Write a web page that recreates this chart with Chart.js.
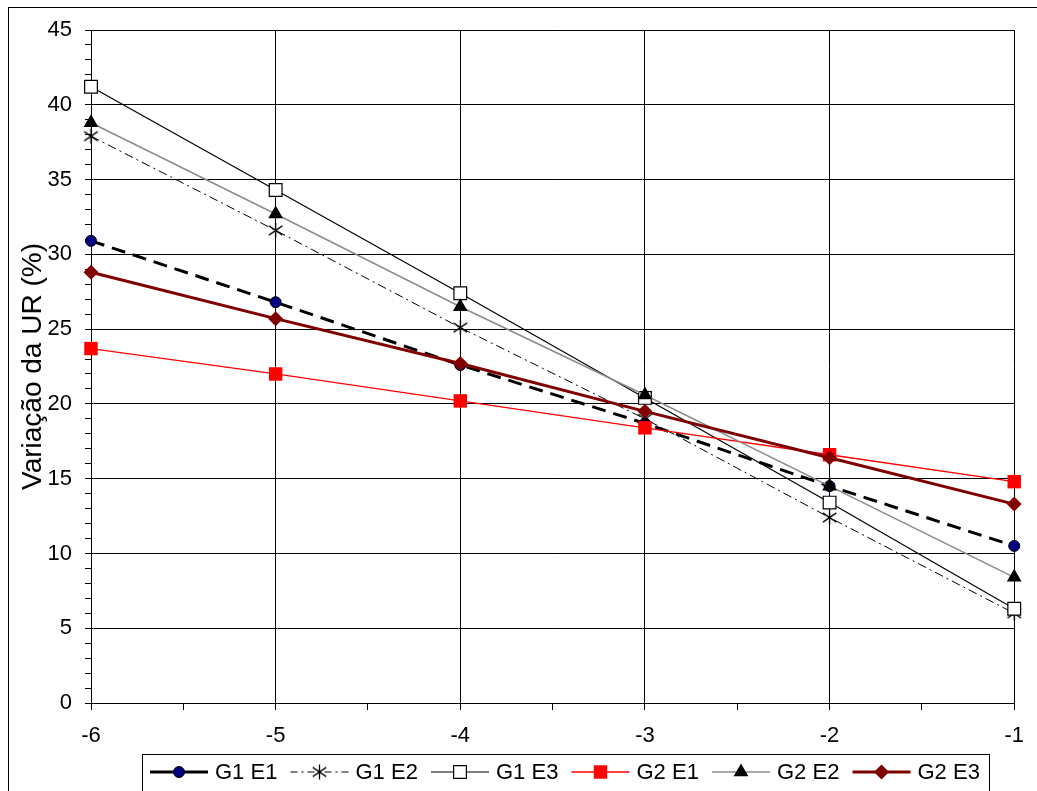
<!DOCTYPE html>
<html>
<head>
<meta charset="utf-8">
<script src="https://cdn.jsdelivr.net/npm/chart.js@4.4.0/dist/chart.umd.min.js"></script>
<style>
  html, body { margin: 0; padding: 0; background: #fff; }
  #wrap { width: 1037px; height: 791px; position: relative; }
</style>
</head>
<body>
<div id="wrap"><canvas id="c" width="1037" height="791"></canvas></div>
<script>
// ---- data ----
const xValues = [-6, -5, -4, -3, -2, -1];
const seriesNames = ['G1 E1', 'G1 E2', 'G1 E3', 'G2 E1', 'G2 E2', 'G2 E3'];
const g1e1 = [30.9, 26.8, 22.6, 18.7, 14.5, 10.5];
const g1e2 = [37.9, 31.6, 25.1, 19.0, 12.4, 6.0];
const g1e3 = [41.2, 34.3, 27.4, 20.4, 13.4, 6.3];
const g2e1 = [23.7, 22.0, 20.2, 18.4, 16.6, 14.8];
const g2e2 = [38.8, 32.7, 26.5, 20.6, 14.5, 8.4];
const g2e3 = [28.8, 25.7, 22.7, 19.5, 16.4, 13.3];
const yAxisTitle = 'Variação da UR (%)';

const FONT = "'Liberation Sans', Arial, sans-serif";

// custom star marker: X with a vertical bar (Excel style)
function makeStar(size) {
  const c = document.createElement('canvas');
  c.width = size; c.height = size;
  const g = c.getContext('2d');
  g.strokeStyle = '#000';
  g.lineWidth = 1.3;
  const m = size / 2, r = size / 2 - 1;
  g.beginPath();
  g.moveTo(m - r * 0.9, m - r * 0.62); g.lineTo(m + r * 0.9, m + r * 0.62);
  g.moveTo(m + r * 0.9, m - r * 0.62); g.lineTo(m - r * 0.9, m + r * 0.62);
  g.moveTo(m, m - r); g.lineTo(m, m + r);
  g.stroke();
  return c;
}
const starImg = makeStar(17);

function pts(arr) { return xValues.map((x, i) => ({ x: x, y: arr[i] })); }

const styles = [
  { data: g1e1, color: '#000', width: 3, dash: [14, 8], pointStyle: 'circle', radius: 5.5, bg: '#000080', pBorder: '#000', pBW: 1 },
  { data: g1e2, color: '#000', width: 1, dash: [9, 4, 2, 4], pointStyle: starImg, radius: 8, bg: '#000', pBorder: '#000', pBW: 1 },
  { data: g1e3, color: '#000', width: 1.2, dash: [], pointStyle: 'rect', radius: 9, bg: '#fff', pBorder: '#000', pBW: 1.2 },
  { data: g2e1, color: '#ff0000', width: 1.3, dash: [], pointStyle: 'rect', radius: 9.5, bg: '#ff0000', pBorder: '#ff0000', pBW: 0 },
  { data: g2e2, color: '#8c8c8c', width: 1.6, dash: [], pointStyle: 'triangle', radius: 8.5, bg: '#000', pBorder: '#000', pBW: 0 },
  { data: g2e3, color: '#800000', width: 3, dash: [], pointStyle: 'rectRot', radius: 7.5, bg: '#800000', pBorder: '#800000', pBW: 0 }
];

const datasets = styles.map((s, i) => ({
  label: seriesNames[i],
  data: pts(s.data),
  borderColor: s.color,
  borderWidth: s.width,
  borderDash: s.dash,
  tension: 0,
  pointStyle: s.pointStyle,
  pointRadius: s.radius,
  pointHoverRadius: s.radius,
  pointBackgroundColor: s.bg,
  pointBorderColor: s.pBorder,
  pointBorderWidth: s.pBW,
  clip: false,
  order: styles.length - i
}));

function drawMarker(ctx, s, x, y) {
  ctx.save();
  ctx.setLineDash([]);
  ctx.fillStyle = s.bg;
  ctx.strokeStyle = s.pBorder;
  ctx.lineWidth = s.pBW;
  const r = s.radius;
  if (typeof s.pointStyle !== 'string') {
    const img = s.pointStyle;
    ctx.drawImage(img, x - img.width / 2, y - img.height / 2);
    ctx.restore();
    return;
  }
  ctx.beginPath();
  if (s.pointStyle === 'circle') {
    ctx.arc(x, y, r, 0, Math.PI * 2);
  } else if (s.pointStyle === 'rect') {
    const h = Math.SQRT1_2 * r;
    ctx.rect(x - h, y - h, 2 * h, 2 * h);
  } else if (s.pointStyle === 'triangle') {
    let a = 0;
    ctx.moveTo(x + Math.sin(a) * r, y - Math.cos(a) * r);
    a += 2 * Math.PI / 3;
    ctx.lineTo(x + Math.sin(a) * r, y - Math.cos(a) * r);
    a += 2 * Math.PI / 3;
    ctx.lineTo(x + Math.sin(a) * r, y - Math.cos(a) * r);
    ctx.closePath();
  } else if (s.pointStyle === 'rectRot') {
    ctx.moveTo(x - r, y); ctx.lineTo(x, y - r); ctx.lineTo(x + r, y); ctx.lineTo(x, y + r);
    ctx.closePath();
  }
  ctx.fill();
  if (s.pBW > 0) ctx.stroke();
  ctx.restore();
}

const framePlugin = {
  id: 'frame',
  beforeDraw(chart) {
    const ctx = chart.ctx;
    ctx.save();
    ctx.fillStyle = '#fff';
    ctx.fillRect(0, 0, chart.width, chart.height);
    ctx.strokeStyle = '#000';
    ctx.lineWidth = 1;
    ctx.strokeRect(8.5, 7.5, 2000, 2000);
    ctx.restore();
  },
  afterDraw(chart) {
    const ctx = chart.ctx;
    ctx.save();
    // legend box
    const boxL = 142.5, boxT = 754.5, boxR = 989.5;
    ctx.strokeStyle = '#000';
    ctx.lineWidth = 1;
    ctx.setLineDash([]);
    ctx.strokeRect(boxL, boxT, boxR - boxL, 60);
    ctx.font = '22px ' + FONT;
    ctx.textBaseline = 'middle';
    ctx.fillStyle = '#000';
    const cy = 772;
    const startX = 150, pitch = 140.5, sampleLen = 58, textOff = 65;
    styles.forEach((s, i) => {
      const x = startX + pitch * i;
      ctx.save();
      ctx.strokeStyle = s.color;
      ctx.lineWidth = s.width;
      ctx.setLineDash(i === 1 ? [7, 4, 2, 4] : []);
      ctx.beginPath();
      ctx.moveTo(x, cy);
      ctx.lineTo(x + sampleLen, cy);
      ctx.stroke();
      ctx.restore();
      drawMarker(ctx, s, x + sampleLen / 2, cy);
      ctx.fillStyle = '#000';
      ctx.fillText(seriesNames[i], x + textOff, cy + 1);
    });
    ctx.restore();
  }
};

const isInt = v => Math.abs(v - Math.round(v)) < 1e-9;

new Chart(document.getElementById('c'), {
  type: 'line',
  data: { datasets: datasets },
  plugins: [framePlugin],
  options: {
    responsive: false,
    animation: false,
    events: [],
    layout: { padding: { top: 30, right: 19, left: 0, bottom: 0 } },
    plugins: { legend: { display: false }, tooltip: { enabled: false } },
    scales: {
      x: {
        type: 'linear',
        min: -6, max: -1,
        afterFit(scale) { scale.height = 88; },
        ticks: {
          stepSize: 0.5,
          autoSkip: false,
          maxRotation: 0,
          padding: 13,
          color: '#000',
          font: { size: 22, family: FONT },
          callback: v => isInt(v) ? String(Math.round(v)) : ''
        },
        grid: {
          color: c => (c.tick && isInt(c.tick.value)) ? '#000' : 'rgba(0,0,0,0)',
          tickColor: '#000',
          tickLength: 7,
          lineWidth: 1
        },
        border: { color: '#000', width: 1 }
      },
      y: {
        min: 0, max: 45,
        afterFit(scale) { scale.width = 91; },
        ticks: {
          stepSize: 1,
          autoSkip: false,
          padding: 13,
          color: '#000',
          font: { size: 22, family: FONT },
          callback: v => (isInt(v) && Math.round(v) % 5 === 0) ? String(Math.round(v)) : ''
        },
        grid: {
          color: c => (c.tick && Math.round(c.tick.value) % 5 === 0) ? '#000' : 'rgba(0,0,0,0)',
          tickColor: '#000',
          tickLength: 6,
          lineWidth: 1
        },
        border: { color: '#000', width: 1 },
        title: {
          display: true,
          text: yAxisTitle,
          color: '#000',
          font: { size: 28, family: FONT },
          padding: { top: 16, bottom: 0 }
        }
      }
    }
  }
});
</script>
</body>
</html>
